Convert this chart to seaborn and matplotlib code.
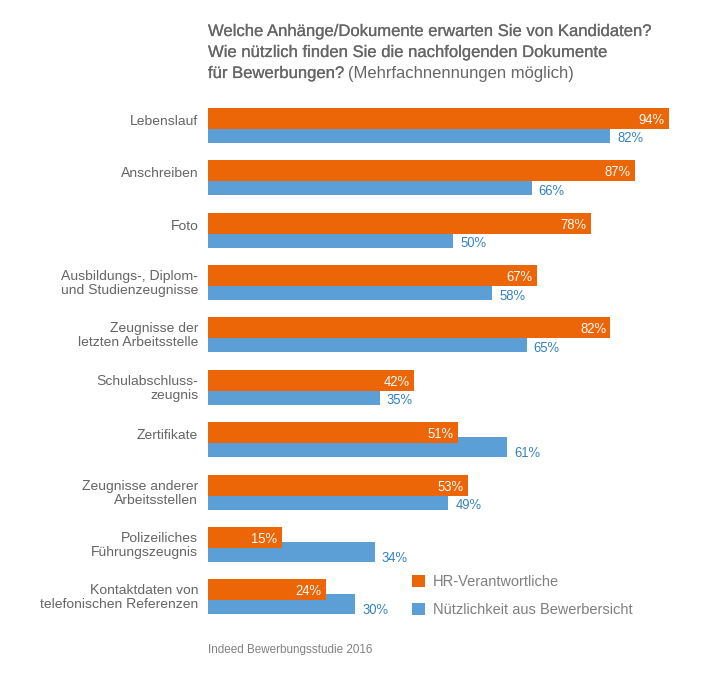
import matplotlib
matplotlib.use("Agg")
import matplotlib.pyplot as plt
import matplotlib.transforms as mtrans
import matplotlib.patheffects as pe
import seaborn as sns

categories = ["Lebenslauf", "Anschreiben", "Foto", "Ausbildungs-, Diplom-\nund Studienzeugnisse",
              "Zeugnisse der\nletzten Arbeitsstelle", "Schulabschluss-\nzeugnis", "Zertifikate",
              "Zeugnisse anderer\nArbeitsstellen", "Polizeiliches\nFührungszeugnis",
              "Kontaktdaten von\ntelefonischen Referenzen"]
hr_values = [94, 87, 78, 67, 82, 42, 51, 53, 15, 24]
applicant_values = [82, 66, 50, 58, 65, 35, 61, 49, 34, 30]
series_names = ["HR-Verantwortliche", "Nützlichkeit aus Bewerbersicht"]

ORANGE, BLUE = "#EC6608", "#5B9FD6"
GREY, DARK, BLUETXT = "#7F7F7F", "#666666", "#2F80C2"
W, H = 710, 681

sns.set_theme(style="white", rc={"axes.facecolor": "white"})
plt.rcParams["font.family"] = ["Liberation Sans", "DejaVu Sans"]
plt.rcParams["text.hinting"] = "no_autohint"
plt.rcParams["text.kerning_factor"] = 0

fig = plt.figure(figsize=(W / 100, H / 100), dpi=100, facecolor="white")
ROW = 52.4
top, bottom = 99.0, 99.0 + 10 * ROW
ax = fig.add_axes([208 / W, 1 - bottom / H, 490.4 / W, (bottom - top) / H])

# blue first so the orange bar overlaps it
sns.barplot(y=categories, x=applicant_values, orient="h", color=BLUE, saturation=1,
            width=20 / ROW, ax=ax, label=series_names[1], linewidth=0, edgecolor="none")
sns.barplot(y=categories, x=hr_values, orient="h", color=ORANGE, saturation=1,
            width=21 / ROW, ax=ax, label=series_names[0], linewidth=0, edgecolor="none")
ax.set_xlim(0, 100)
ax.set_ylim(9.5, -0.5)
sns.despine(ax=ax, left=True, bottom=True)
ax.set_xticks([])
ax.grid(False)
ax.set_xlabel("")
ax.set_ylabel("")

blue_bars, orange_bars = ax.containers[0], ax.containers[1]
for b in blue_bars:
    b.set_y(b.get_y() + 7.5 / ROW)
for b in orange_bars:
    b.set_y(b.get_y() - 7.0 / ROW)

for a in ax.bar_label(orange_bars, fmt="%d%%", padding=-3, label_type="edge", color="white", fontsize=9.4):
    a.set_ha("right")
    a.xyann = (a.xyann[0], -1.5)
for a in ax.bar_label(blue_bars, fmt="%d%%", padding=5, label_type="edge", color=BLUETXT, fontsize=9.4):
    a.xyann = (a.xyann[0], -4.5)

ax.tick_params(axis="y", length=0, pad=7)
for lab in ax.get_yticklabels():
    two = "\n" in lab.get_text()
    shift = 1.0 if two else (17.5 - 12)
    lab.set_transform(lab.get_transform() + mtrans.Affine2D().translate(0, shift))
    lab.set_color(DARK)
    lab.set_fontsize(10.05)
    lab.set_linespacing(1.1)
    lab.set_multialignment("right")

# title
stroke = [pe.withStroke(linewidth=0.15, foreground=DARK)]
tkw = dict(fontsize=12.0, color=DARK, va="center", ha="left")
fig.text(208 / W, 1 - 32 / H, "Welche Anhänge/Dokumente erwarten Sie von Kandidaten?", path_effects=stroke, **tkw)
fig.text(208 / W, 1 - 53 / H, "Wie nützlich finden Sie die nachfolgenden Dokumente", path_effects=stroke, **tkw)
t = fig.text(208 / W, 1 - 74 / H, "für Bewerbungen?", path_effects=stroke, **tkw)
fig.canvas.draw()
ext = t.get_window_extent()
fig.text((ext.x1 + 4) / W, 1 - 74 / H, "(Mehrfachnennungen möglich)", **tkw)

handles, labels = ax.get_legend_handles_labels()
order = [labels.index(n) for n in series_names]
leg = ax.legend([handles[i] for i in order], [labels[i] for i in order], frameon=False,
                loc="upper left", bbox_to_anchor=(411.5 / W, 1 - 574.5 / H), bbox_transform=fig.transFigure,
                borderpad=0, borderaxespad=0, fontsize=10.5, handlelength=0.9, handleheight=0.9,
                handletextpad=0.55, labelspacing=1.0)
for txt in leg.get_texts():
    txt.set_color(GREY)

fig.text(208 / W, 1 - 649.5 / H, "Indeed Bewerbungsstudie 2016", fontsize=8.4, color=GREY, va="center", ha="left")
fig.savefig("out.png", dpi=100, facecolor="white")
